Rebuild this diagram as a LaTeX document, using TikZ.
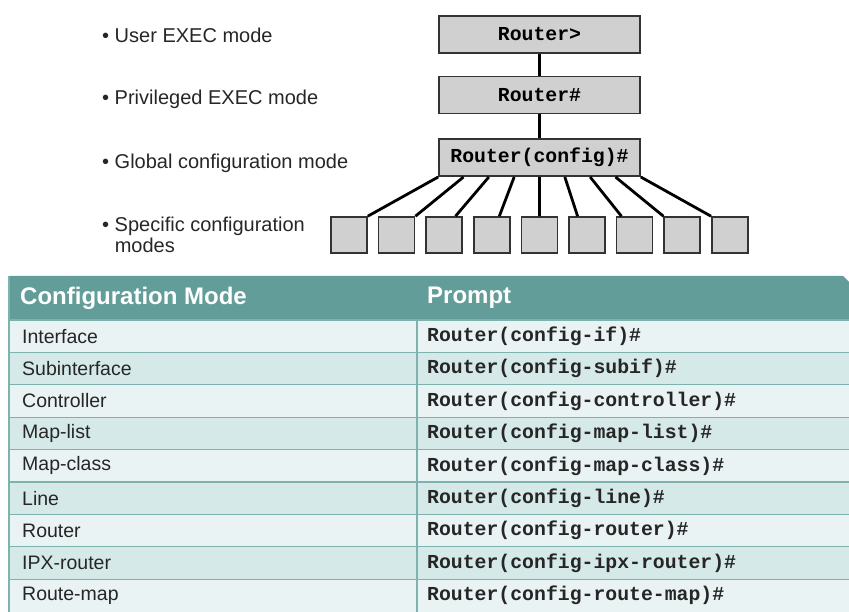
\documentclass[tikz,border=0pt]{standalone}
\usepackage{fontspec}
\setmainfont{Liberation Sans}
\setmonofont{Liberation Mono}
\usetikzlibrary{positioning,calc}
\definecolor{hdrteal}{RGB}{98,157,153}
\definecolor{rowlight}{RGB}{233,243,243}
\definecolor{rowdark}{RGB}{214,233,233}
\definecolor{gridteal}{RGB}{125,178,175}
\definecolor{boxgray}{RGB}{208,208,208}
\tikzset{
  routerbox/.style={draw=black!80,line width=1.6pt,fill=boxgray,minimum width=201pt,
    minimum height=37pt,inner sep=0pt,font=\ttfamily\bfseries\fontsize{19.8}{21}\selectfont},
  modebox/.style={draw=black!80,line width=1.6pt,fill=boxgray,minimum width=36pt,
    minimum height=36pt,inner sep=0pt},
  link/.style={line width=2.8pt,black},
  lbl/.style={anchor=west,inner sep=0pt,align=left,text=black!85,font=\fontsize{20}{21}\selectfont},
  hdr/.style={anchor=west,inner sep=0pt,text=white,font=\bfseries\fontsize{24}{25}\selectfont},
  cell/.style={anchor=west,inner sep=0pt,text=black!85,font=\fontsize{19.5}{21}\selectfont},
  pcell/.style={anchor=west,inner sep=0pt,text=black!85,font=\ttfamily\bfseries\fontsize{19.8}{21}\selectfont},
}

\begin{document}
\begin{tikzpicture}[x=1pt,y=-1pt]
\useasboundingbox (0,0) rectangle (849,612);
% mode hierarchy
\node[routerbox] (user) at (539.5,34.5) {Router>};
\node[routerbox,below=22pt of user] (priv) {Router\#};
\node[routerbox,below=24pt of priv] (cfg) {Router(config)\#};
\draw[link] (user) -- (priv);
\draw[link] (priv) -- (cfg);
\foreach \i/\f in {0/1,1/1,2/.8,3/.7,4/.5,5/.25,6/.15,7/0,8/0}{
  \node[modebox] (spec\i) at ({349+47.6*\i},235) {};
  \draw[link] ($(cfg.south west)!\i/8!(cfg.south east)$) -- ($(spec\i.north west)!\f!(spec\i.north east)$);
}
% labels
\node[lbl] (luser) at (102,35) {• User EXEC mode};
\node[lbl] (lpriv) at (102,99) {• Privileged EXEC mode};
\node[lbl] (lcfg) at (102,163) {• Global configuration mode};
\node[lbl] (lspec) at (102,235) {• Specific configuration\\\phantom{• }modes};
% table
\fill[hdrteal] (9,276) -- (843,276) -- (849,282) -- (849,320) -- (9,320) -- cycle;
\node[hdr] (hmode) at (20,298) {Configuration Mode};
\node[hdr] (hprompt) at (427,298) {Prompt};
\foreach \m/\p [count=\i from 0] in {Interface/if,Subinterface/subif,Controller/controller,
    Map-list/map-list,Map-class/map-class,Line/line,Router/router,IPX-router/ipx-router,
    Route-map/route-map}{
  \pgfmathsetmacro\ytop{320+32.4*\i}
  \ifodd\i \def\rowcol{rowdark}\else\def\rowcol{rowlight}\fi
  \fill[\rowcol] (9,\ytop) rectangle (849,\ytop+32.4);
  \draw[gridteal,line width=1.2pt] (9,\ytop) -- (849,\ytop);
  \node[cell] (mode\i) at (22,\ytop+16.2) {\m};
  \node[pcell] (prompt\i) at (427,\ytop+16.2) {Router(config-\p)\#};
}
\draw[gridteal,line width=1.2pt] (417,320) -- (417,612);
\draw[gridteal,line width=1.2pt] (9,276) -- (9,612);
\end{tikzpicture}
\end{document}
